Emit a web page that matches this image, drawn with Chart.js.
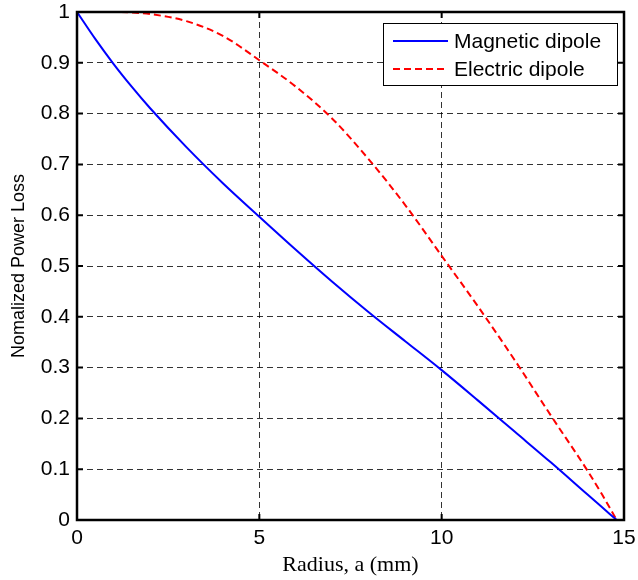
<!DOCTYPE html>
<html>
<head>
<meta charset="utf-8">
<script src="https://cdn.jsdelivr.net/npm/chart.js@4/dist/chart.umd.min.js"></script>
<style>
    html, body { margin: 0; padding: 0; background: #ffffff; }
    #wrap { width: 638px; height: 580px; }
</style>
</head>
<body>
<div id="wrap"><canvas id="lossChart" width="638" height="580"></canvas></div>
<script>
// Datos
const radius = [0, 0.5, 1, 1.5, 2, 3, 4, 5, 6, 7, 8, 9, 10, 11, 12, 13, 14, 14.4, 14.8];
const magneticLoss = [1, 0.947, 0.898, 0.853, 0.811, 0.734, 0.663, 0.597, 0.532, 0.469, 0.409, 0.352, 0.295, 0.235, 0.174, 0.113, 0.05, 0.025, 0];
const electricLoss = [1, 1, 1, 0.999, 0.996, 0.982, 0.953, 0.905, 0.853, 0.79, 0.71, 0.62, 0.52, 0.42, 0.315, 0.205, 0.097, 0.05, 0];
const seriesLabels = ['Magnetic dipole', 'Electric dipole'];
const xTicks = [0, 5, 10, 15];
const yTicks = [0, 0.1, 0.2, 0.3, 0.4, 0.5, 0.6, 0.7, 0.8, 0.9, 1];

const SANS = '"Liberation Sans", Arial, sans-serif';
const SERIF = '"Liberation Serif", "Times New Roman", serif';

function toPoints(ys) {
    return radius.map((r, i) => ({ x: r, y: ys[i] }));
}

// Marco, marcas interiores y leyenda (estilo MATLAB)
const matlabFrame = {
    id: 'matlabFrame',
    afterDraw(chart) {
        const ctx = chart.ctx;
        const { left, right, top, bottom } = chart.chartArea;
        const xs = chart.scales.x;
        const ys = chart.scales.y;

        ctx.save();
        ctx.strokeStyle = '#000';
        ctx.lineWidth = 2;
        ctx.setLineDash([]);
        ctx.beginPath();
        xTicks.forEach(v => {
            const px = xs.getPixelForValue(v);
            ctx.moveTo(px, bottom); ctx.lineTo(px, bottom - 6);
            ctx.moveTo(px, top); ctx.lineTo(px, top + 6);
        });
        yTicks.forEach(v => {
            const py = ys.getPixelForValue(v);
            ctx.moveTo(left, py); ctx.lineTo(left + 6, py);
            ctx.moveTo(right, py); ctx.lineTo(right - 6, py);
        });
        ctx.stroke();

        ctx.lineWidth = 2.5;
        ctx.strokeRect(left, top, right - left, bottom - top);

        // Leyenda
        const bx = right - 241, by = top + 11, bw = 234, bh = 62;
        ctx.fillStyle = '#fff';
        ctx.fillRect(bx, by, bw, bh);
        ctx.lineWidth = 1;
        ctx.strokeStyle = '#000';
        ctx.strokeRect(bx + 0.5, by + 0.5, bw, bh);

        ctx.font = '21px ' + SANS;
        ctx.textBaseline = 'middle';
        ctx.textAlign = 'left';
        chart.data.datasets.forEach((ds, i) => {
            const ly = by + 18 + i * 28;
            ctx.strokeStyle = ds.borderColor;
            ctx.lineWidth = ds.borderWidth;
            ctx.setLineDash(ds.borderDash || []);
            ctx.beginPath();
            ctx.moveTo(bx + 10, ly);
            ctx.lineTo(bx + 65, ly);
            ctx.stroke();
            ctx.setLineDash([]);
            ctx.fillStyle = '#000';
            ctx.fillText(ds.label, bx + 71, ly + 1);
        });
        ctx.restore();
    }
};

const gridStyle = {
    color: 'rgba(0,0,0,0.8)',
    lineWidth: 1,
    drawTicks: false
};

new Chart(document.getElementById('lossChart'), {
    type: 'line',
    data: {
        datasets: [
            {
                label: seriesLabels[0],
                data: toPoints(magneticLoss),
                borderColor: '#0000ff',
                borderWidth: 2,
                pointRadius: 0,
                cubicInterpolationMode: 'monotone',
                fill: false
            },
            {
                label: seriesLabels[1],
                data: toPoints(electricLoss),
                borderColor: '#ff0000',
                borderWidth: 2,
                borderDash: [7, 4],
                pointRadius: 0,
                cubicInterpolationMode: 'monotone',
                fill: false
            }
        ]
    },
    options: {
        responsive: false,
        animation: false,
        layout: { padding: { top: 12, right: 14, left: 0, bottom: 0 } },
        plugins: {
            legend: { display: false },
            tooltip: { enabled: false }
        },
        scales: {
            x: {
                type: 'linear',
                min: 0,
                max: 15,
                afterBuildTicks: (scale) => { scale.ticks = xTicks.map(v => ({ value: v })); },
                afterFit: (scale) => {
                    scale.height = 60;
                    scale.paddingLeft = 0;
                    scale.paddingRight = 0;
                },
                ticks: {
                    color: '#000',
                    font: { family: SANS, size: 21 },
                    padding: 6,
                    maxRotation: 0
                },
                grid: gridStyle,
                border: { display: false, dash: [6, 4] },
                title: {
                    display: true,
                    text: 'Radius, a (mm)',
                    color: '#000',
                    font: { family: SERIF, size: 22 },
                    padding: { top: 0, bottom: 2 }
                }
            },
            y: {
                type: 'linear',
                min: 0,
                max: 1,
                afterBuildTicks: (scale) => { scale.ticks = yTicks.map(v => ({ value: v })); },
                afterFit: (scale) => {
                    scale.width = 77;
                    scale.paddingTop = 0;
                    scale.paddingBottom = 0;
                },
                ticks: {
                    color: '#000',
                    font: { family: SANS, size: 21 },
                    padding: 7,
                    callback: (v) => String(Math.round(v * 10) / 10)
                },
                grid: gridStyle,
                border: { display: false, dash: [6, 4] },
                title: {
                    display: true,
                    text: 'Nomalized Power Loss',
                    color: '#000',
                    font: { family: SANS, size: 18 },
                    padding: { top: 8, bottom: 0 }
                }
            }
        }
    },
    plugins: [matlabFrame]
});
</script>
</body>
</html>
